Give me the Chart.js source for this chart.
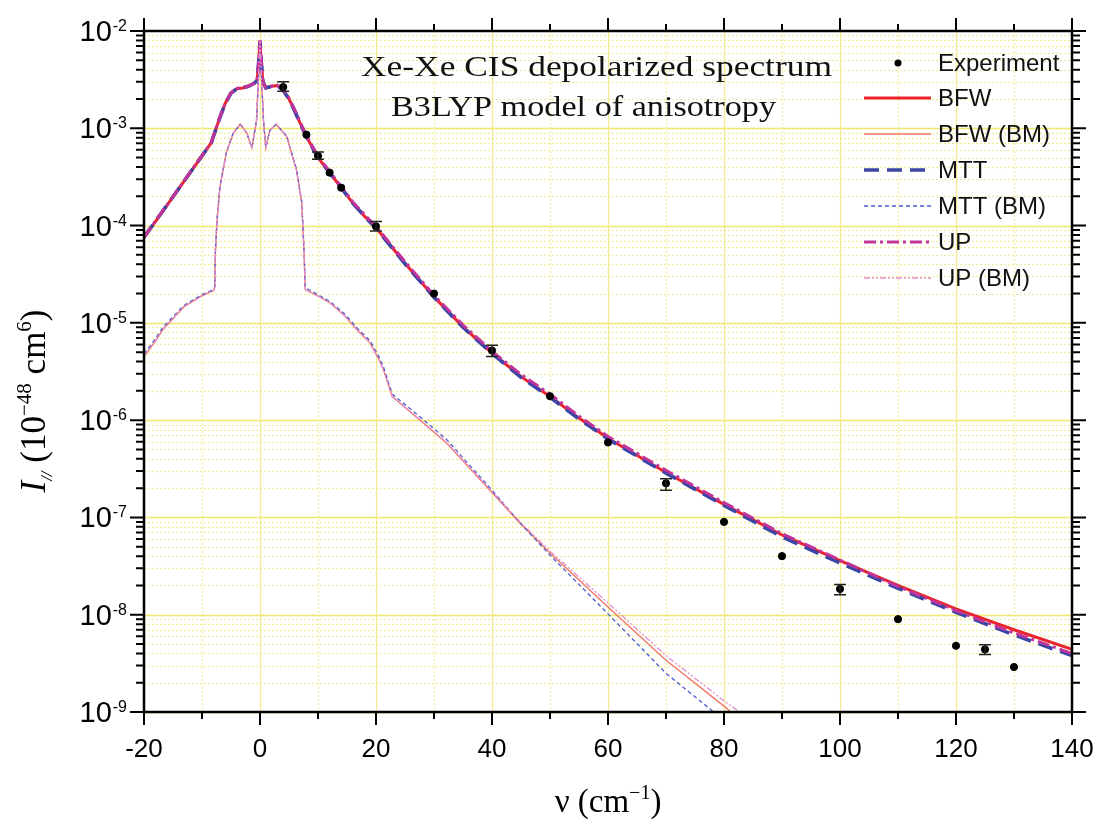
<!DOCTYPE html>
<html><head><meta charset="utf-8">
<script src="https://cdn.jsdelivr.net/npm/chart.js@4.4.0/dist/chart.umd.min.js"></script>
<style>html,body{margin:0;padding:0;background:#fff;} canvas{display:block;}</style>
</head><body>
<canvas id="c" width="1099" height="827"></canvas>
<script>
// ---------- data ----------
const xMain = [-20,-15,-10,-8.4,-7,-6,-5,-4,-3,-2,-1,-0.5,-0.2,0,0.2,0.5,1,2,3,4,5,6,7,8,9,10,12,14,16,18,20,25,30,35,40,45,50,55,60,70,80,90,100,110,120,130,140];
const yBFW = [7.5e-5,1.97e-4,5.2e-4,7.1e-4,1.25e-3,1.8e-3,2.3e-3,2.55e-3,2.6e-3,2.7e-3,2.9e-3,3.1e-3,5e-3,8e-3,5e-3,3.0e-3,2.6e-3,2.7e-3,2.75e-3,2.45e-3,2.0e-3,1.5e-3,1.1e-3,8.2e-4,6.4e-4,5.0e-4,3.5e-4,2.45e-4,1.7e-4,1.25e-4,9.5e-5,4.1e-5,1.85e-5,9.1e-6,4.9e-6,2.8e-6,1.75e-6,1.05e-6,6.5e-7,2.9e-7,1.36e-7,6.6e-8,3.6e-8,2.0e-8,1.15e-8,7.0e-9,4.4e-9];
const yMTT = [7.6e-5,1.98e-4,5.2e-4,7.1e-4,1.25e-3,1.8e-3,2.3e-3,2.55e-3,2.6e-3,2.7e-3,2.9e-3,3.1e-3,5e-3,7.8e-3,5e-3,3.0e-3,2.6e-3,2.7e-3,2.75e-3,2.45e-3,2.0e-3,1.5e-3,1.1e-3,8.2e-4,6.4e-4,5.0e-4,3.5e-4,2.45e-4,1.7e-4,1.25e-4,9.4e-5,4.05e-5,1.83e-5,9.0e-6,4.85e-6,2.75e-6,1.72e-6,1.03e-6,6.4e-7,2.85e-7,1.33e-7,6.3e-8,3.4e-8,1.87e-8,1.06e-8,6.2e-9,3.8e-9];
const yUP = [7.6e-5,1.99e-4,5.25e-4,7.2e-4,1.27e-3,1.82e-3,2.32e-3,2.57e-3,2.62e-3,2.72e-3,2.9e-3,3.1e-3,5e-3,8e-3,5e-3,3.0e-3,2.62e-3,2.72e-3,2.78e-3,2.5e-3,2.05e-3,1.55e-3,1.13e-3,8.4e-4,6.6e-4,5.15e-4,3.6e-4,2.52e-4,1.75e-4,1.3e-4,9.8e-5,4.25e-5,1.92e-5,9.5e-6,5.1e-6,2.95e-6,1.85e-6,1.1e-6,6.8e-7,3.05e-7,1.42e-7,6.8e-8,3.65e-8,1.95e-8,1.1e-8,6.5e-9,4.0e-9];
const xBM = [-20,-18,-16.7,-15,-13.2,-10,-8,-7.8,-7.7,-7.4,-6.9,-5.8,-4.6,-3.4,-2.3,-1.4,-0.6,-0.2,0,0.2,0.6,1.0,1.7,2.8,4.6,6.3,7.2,7.6,7.8,10.3,12.1,14.5,16.7,19,20.5,21.3,22.8,27.6,32.2,40,45,50,60,70,80,85];
const yBFWBM = [4.5e-6,6.5e-6,8.6e-6,1.1e-5,1.45e-5,1.9e-5,2.15e-5,2.3e-5,5.2e-5,1.15e-4,2.5e-4,5.6e-4,8.9e-4,1.1e-3,9.0e-4,6.3e-4,1.2e-3,4e-3,8e-3,4e-3,1.2e-3,6.3e-4,9.5e-4,1.1e-3,8.2e-4,3.7e-4,1.7e-4,5.2e-5,2.2e-5,1.85e-5,1.6e-5,1.2e-5,8.5e-6,6.2e-6,4.2e-6,3.3e-6,1.75e-6,1.0e-6,5.8e-7,1.8e-7,8.5e-8,4.3e-8,1.2e-8,3.4e-9,1.15e-9,6.5e-10];
const yMTTBM = [4.8e-6,6.9e-6,9.1e-6,1.15e-5,1.5e-5,1.95e-5,2.2e-5,2.35e-5,5.3e-5,1.17e-4,2.55e-4,5.7e-4,9.0e-4,1.1e-3,9.0e-4,6.3e-4,1.2e-3,4e-3,8e-3,4e-3,1.2e-3,6.3e-4,9.5e-4,1.1e-3,8.3e-4,3.8e-4,1.75e-4,5.4e-5,2.3e-5,1.9e-5,1.65e-5,1.25e-5,8.9e-6,6.5e-6,4.5e-6,3.5e-6,1.85e-6,1.08e-6,6.3e-7,1.9e-7,8.6e-8,4.1e-8,1.02e-8,2.5e-9,8.2e-10,4.5e-10];
const yUPBM = [4.6e-6,6.6e-6,8.7e-6,1.11e-5,1.46e-5,1.9e-5,2.15e-5,2.3e-5,5.2e-5,1.15e-4,2.5e-4,5.6e-4,8.9e-4,1.1e-3,9.0e-4,6.3e-4,1.2e-3,4e-3,8e-3,4e-3,1.2e-3,6.3e-4,9.5e-4,1.1e-3,8.2e-4,3.7e-4,1.7e-4,5.2e-5,2.2e-5,1.85e-5,1.6e-5,1.2e-5,8.6e-6,6.2e-6,4.2e-6,3.3e-6,1.76e-6,1.0e-6,5.9e-7,1.85e-7,8.8e-8,4.5e-8,1.32e-8,3.8e-9,1.3e-9,8e-10];
const expX = [4,8,10,12,14,20,30,40,50,60,70,80,90,100,110,120,125,130];
const expY = [2.65e-3,8.6e-4,5.2e-4,3.5e-4,2.45e-4,9.8e-5,2.0e-5,5.2e-6,1.76e-6,5.9e-7,2.24e-7,9.0e-8,4.0e-8,1.84e-8,9.0e-9,4.8e-9,4.4e-9,2.9e-9];
const errX = [4,10,20,40,70,100,125];
const errLo = [2.4e-3,4.8e-4,8.8e-5,4.5e-6,1.9e-7,1.6e-8,3.9e-9];
const errHi = [3.0e-3,5.7e-4,1.1e-4,5.9e-6,2.5e-7,2.05e-8,4.9e-9];
const xTickValues = [-20,0,20,40,60,80,100,120,140];
const xTickLabels = ['-20','0','20','40','60','80','100','120','140'];
const yDecades = [-9,-8,-7,-6,-5,-4,-3,-2];
const seriesNames = ['Experiment','BFW','BFW (BM)','MTT','MTT (BM)','UP','UP (BM)'];
const titleLines = ['Xe-Xe CIS depolarized spectrum','B3LYP model of anisotropy'];

const pts = (xs, ys) => xs.map((v,i)=>({x:v,y:ys[i]}));

const SERIF = '"Liberation Serif","Times New Roman",serif';
const SANS = '"Liberation Sans",Arial,sans-serif';

function stretched(ctx, text, x, y, font, w){
  ctx.font = font;
  const m = ctx.measureText(text).width;
  ctx.save(); ctx.translate(x,y); ctx.scale(w/m,1); ctx.fillText(text,0,0); ctx.restore();
}

const frame = {
  id:'frame',
  beforeDatasetsDraw(chart){
    const {ctx, chartArea:a, scales:{x,y}} = chart;
    ctx.save();
    for (let e=-9; e<-2; e++) for (let m=1; m<10; m++){
      const py = Math.round(y.getPixelForValue(m*Math.pow(10,e)))+0.5;
      ctx.beginPath();
      if (m===1){ ctx.setLineDash([]); ctx.strokeStyle='#efe86a'; ctx.lineWidth=1.6; }
      else { ctx.setLineDash([2,2]); ctx.strokeStyle='#f2ec98'; ctx.lineWidth=1.2; }
      ctx.moveTo(a.left,py); ctx.lineTo(a.right,py); ctx.stroke();
    }
    for (let v=-10; v<140; v+=10){
      const px = Math.round(x.getPixelForValue(v))+0.5;
      ctx.beginPath();
      if (v%20===0){ ctx.setLineDash([]); ctx.strokeStyle='#f1ec90'; ctx.lineWidth=1.3; }
      else { ctx.setLineDash([2,2]); ctx.strokeStyle='#f2ec98'; ctx.lineWidth=1.2; }
      ctx.moveTo(px,a.top); ctx.lineTo(px,a.bottom); ctx.stroke();
    }
    ctx.restore();
  },
  afterDatasetsDraw(chart){
    const {ctx, scales:{x,y}} = chart;
    ctx.save();
    ctx.strokeStyle='#222'; ctx.lineWidth=1.5;
    errX.forEach((v,i)=>{
      const px=x.getPixelForValue(v), p1=y.getPixelForValue(errLo[i]), p2=y.getPixelForValue(errHi[i]);
      ctx.beginPath();
      ctx.moveTo(px,p1); ctx.lineTo(px,p2);
      ctx.moveTo(px-6,p1); ctx.lineTo(px+6,p1);
      ctx.moveTo(px-6,p2); ctx.lineTo(px+6,p2);
      ctx.stroke();
    });
    ctx.restore();
  },
  afterDraw(chart){
    const {ctx, chartArea:a, scales:{x,y}} = chart;
    ctx.save();
    ctx.strokeStyle='#000'; ctx.lineWidth=2.5; ctx.setLineDash([]);
    ctx.strokeRect(a.left,a.top,a.right-a.left,a.bottom-a.top);
    ctx.lineWidth=2;
    ctx.beginPath();
    for (let v=-20; v<=140; v+=10){
      const px=x.getPixelForValue(v); const L = (v%20===0)?13:7;
      ctx.moveTo(px,a.bottom); ctx.lineTo(px,a.bottom+L);
      ctx.moveTo(px,a.top); ctx.lineTo(px,a.top-L);
    }
    for (let e=-9; e<=-2; e++) for (let m=1; m<10; m++){
      if (e===-2 && m>1) break;
      const py=y.getPixelForValue(m*Math.pow(10,e)); const L=(m===1)?14:8;
      ctx.moveTo(a.left,py); ctx.lineTo(a.left-L,py);
      ctx.moveTo(a.right,py); ctx.lineTo(a.right+L,py);
    }
    ctx.stroke();
    ctx.fillStyle='#000'; ctx.textAlign='center'; ctx.textBaseline='alphabetic';
    ctx.font='26px '+SANS;
    xTickValues.forEach((v,i)=>{ ctx.fillText(xTickLabels[i], x.getPixelForValue(v), 757); });
    ctx.textAlign='left';
    yDecades.forEach(e=>{
      const py=y.getPixelForValue(Math.pow(10,e));
      ctx.font='16px '+SANS; const sup='-'+(-e); const ws=ctx.measureText(sup).width;
      ctx.font='29px '+SANS; const wb=ctx.measureText('10').width;
      const right=126; const x0=right-ws-wb;
      ctx.fillText('10',x0,py+10);
      ctx.font='16px '+SANS; ctx.fillText(sup,x0+wb+1,py);
    });
    {
      const parts=[['ν (cm','33px '+SERIF,0],['−1','20px '+SERIF,-13],[')','33px '+SERIF,0]];
      let tot=0; parts.forEach(p=>{ctx.font=p[1]; tot+=ctx.measureText(p[0]).width;});
      let cx=608-tot/2;
      parts.forEach(p=>{ctx.font=p[1]; ctx.fillText(p[0],cx,812+p[2]); cx+=ctx.measureText(p[0]).width;});
    }
    {
      ctx.save(); ctx.translate(45,401); ctx.rotate(-Math.PI/2);
      const parts=[['I','italic 35px '+SERIF,0],['//','italic 17px '+SERIF,7],[' (10','35px '+SERIF,0],['−48','21px '+SERIF,-14],[' cm','35px '+SERIF,0],['6','21px '+SERIF,-14],[')','35px '+SERIF,0]];
      let tot=0; parts.forEach(p=>{ctx.font=p[1]; tot+=ctx.measureText(p[0]).width;});
      let cx=-tot/2;
      parts.forEach(p=>{ctx.font=p[1]; ctx.fillText(p[0],cx,p[2]); cx+=ctx.measureText(p[0]).width;});
      ctx.restore();
    }
    ctx.fillStyle='#111';
    stretched(ctx,titleLines[0],361,76,'30px '+SERIF,471);
    stretched(ctx,titleLines[1],391,116,'30px '+SERIF,385);
    const rows=[63,98,134,170,206,242,278];
    ctx.textBaseline='middle';
    chart.data.datasets.forEach((ds,i)=>{
      const ry=rows[i];
      if (i===0){
        ctx.beginPath(); ctx.fillStyle='#000'; ctx.arc(898,ry,3.5,0,Math.PI*2); ctx.fill();
      } else {
        ctx.beginPath(); ctx.strokeStyle=ds.borderColor; ctx.lineWidth=ds.borderWidth;
        ctx.setLineDash(ds.borderDash||[]); ctx.moveTo(864,ry); ctx.lineTo(931,ry); ctx.stroke();
        ctx.setLineDash([]);
      }
      ctx.fillStyle='#111'; ctx.font='24px '+SANS; ctx.fillText(seriesNames[i],938,ry+1);
    });
    ctx.restore();
  }
};

const lineDs = (label, xs, ys, color, width, dash, order) => ({
  label, data: pts(xs,ys), borderColor: color, backgroundColor: color,
  borderWidth: width, borderDash: dash, pointRadius: 0, tension: 0, fill: false, order
});

new Chart(document.getElementById('c'), {
  type: 'line',
  data: { datasets: [
    { label: seriesNames[0], data: pts(expX,expY), showLine:false, pointRadius:3.6, pointBackgroundColor:'#000', pointBorderColor:'#000', borderColor:'#000', backgroundColor:'#000', order:0 },
    lineDs(seriesNames[1], xMain, yBFW, '#e8252d', 3, [], 6),
    lineDs(seriesNames[2], xBM, yBFWBM, '#f07868', 1.4, [], 5),
    lineDs(seriesNames[3], xMain, yMTT, '#3b45a6', 3.6, [15,8], 4),
    lineDs(seriesNames[4], xBM, yMTTBM, '#4c5bd0', 1.3, [4,3], 3),
    lineDs(seriesNames[5], xMain, yUP, '#c2339b', 3, [12,4,3,4], 2),
    lineDs(seriesNames[6], xBM, yUPBM, '#e48fcf', 1.3, [6,2,2,2,2,2], 1)
  ]},
  options: {
    responsive:false, animation:false, devicePixelRatio:1,
    layout:{ padding:{ left:144, right:27, top:31, bottom:115 } },
    plugins:{ legend:{display:false}, tooltip:{enabled:false} },
    scales:{
      x:{ type:'linear', min:-20, max:140, ticks:{display:false}, grid:{display:false}, border:{display:false}, afterFit:s=>{s.height=0;} },
      y:{ type:'logarithmic', min:1e-9, max:1e-2, ticks:{display:false}, grid:{display:false}, border:{display:false}, afterFit:s=>{s.width=0;} }
    }
  },
  plugins:[frame]
});
</script>
</body></html>
